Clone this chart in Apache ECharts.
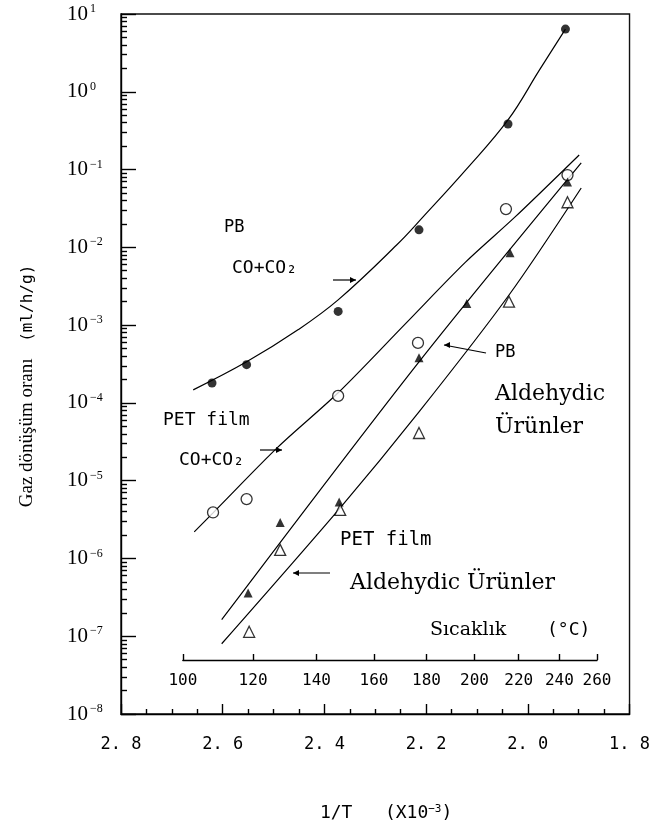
<!DOCTYPE html>
<html>
<head>
<meta charset="utf-8">
<title>Gaz dönüşüm oranı</title>
<script src="https://cdn.jsdelivr.net/npm/echarts@6/dist/echarts.min.js"></script>
</head>
<body style="margin:0;background:#fff">
<div id="main" style="width:653px;height:830px;"></div>
<script>
// values: x = 1/T (x10^-3), y = ml/h/g
var pbCoX = [2.621, 2.553, 2.373, 2.214, 2.039, 1.926];
var pbCoY = [1.8e-4, 3.1e-4, 1.5e-3, 0.0168, 0.385, 6.4];
var pbCoFitX = [2.658, 2.553, 2.452, 2.373, 2.258, 2.206, 2.122, 2.039, 1.977, 1.926];
var pbCoFitY = [1.47e-4, 3.37e-4, 8.7e-4, 2.11e-3, 0.0107, 0.0246, 0.0989, 0.434, 1.91, 6.4];

var petCoX = [2.619, 2.553, 2.373, 2.216, 2.043, 1.922];
var petCoY = [3.9e-6, 5.8e-6, 1.23e-4, 5.9e-4, 0.031, 0.085];
var petCoFitX = [2.656, 2.619, 2.491, 2.373, 2.239, 2.122, 2.025, 1.899];
var petCoFitY = [2.2e-6, 3.86e-6, 2.72e-5, 1.35e-4, 1.07e-3, 6.5e-3, 0.0246, 0.154];

var pbAlX = [2.550, 2.487, 2.371, 2.214, 2.120, 2.035, 1.922];
var pbAlY = [3.6e-7, 2.9e-6, 5.3e-6, 3.8e-4, 1.9e-3, 8.5e-3, 0.069];
var pbAlFitX = [2.602, 2.214, 1.895];
var pbAlFitY = [1.63e-7, 3.37e-4, 0.122];

var petAlX = [2.548, 2.487, 2.369, 2.214, 2.037, 1.922];
var petAlY = [1.14e-7, 1.29e-6, 4.2e-6, 4.1e-5, 2.0e-3, 0.038];
var petAlFitX = [2.602, 2.369, 2.214, 2.037, 1.895];
var petAlFitY = [8.0e-8, 4.47e-6, 7.66e-5, 2.44e-3, 0.058];

var tempTicks = [100, 120, 140, 160, 180, 200, 220, 240, 260];
var yMinorLogs = [];
for (var e = -8; e < 1; e++) {
    for (var k = 2; k <= 9; k++) yMinorLogs.push(e + Math.log10(k));
}

function pairs(xs, ys) {
    return xs.map(function (x, i) { return [x, ys[i]]; });
}
function invT(c) { return 1000 / (c + 273.15); }

var W = 653, H = 830;
var gLeft = 121, gRight = 17, gTop = 14, gBottom = 116;
var gW = W - gLeft - gRight;
// temperature scale sits inside the plot, aligned with 1/T
var tLeft = gLeft + (2.8 - invT(100)) * gW;
var tRight = W - (gLeft + (2.8 - invT(260)) * gW);

var mono = 'DejaVu Sans Mono';
var serif = 'Liberation Serif';
var serif2 = 'DejaVu Serif';

var myChart = echarts.init(document.getElementById('main'));

function fitLine(xs, ys, sm) {
    return {
        type: 'line', data: pairs(xs, ys), smooth: sm, symbol: 'none',
        lineStyle: { color: '#000', width: 1.2 }, z: 2, silent: true
    };
}
function dots(xs, ys, sym, filled, size) {
    return {
        type: 'scatter', data: pairs(xs, ys), symbol: sym, symbolSize: size,
        itemStyle: filled ? { color: '#000' } : { color: '#fff', borderColor: '#000', borderWidth: 1.3 },
        z: 3
    };
}
function txt(x, y, s, font) {
    return { type: 'text', x: x, y: y, style: { text: s, font: font, fill: '#000', verticalAlign: 'middle' } };
}
function arrow(x1, y1, x2, y2) {
    // head at (x2, y2)
    var dir = x2 > x1 ? -1 : 1;
    return [
        { type: 'line', shape: { x1: x1, y1: y1, x2: x2, y2: y2 }, style: { stroke: '#000', lineWidth: 1.2 } },
        { type: 'polygon', shape: { points: [[x2, y2], [x2 + dir * 6, y2 - 3], [x2 + dir * 6, y2 + 3]] }, style: { fill: '#000' } }
    ];
}

var graphics = [
    txt(224, 228, 'PB', '17px ' + mono),
    txt(232, 268, 'CO+CO₂', '18px ' + mono),
    txt(163, 420, 'PET film', '18px ' + mono),
    txt(179, 460, 'CO+CO₂', '18px ' + mono),
    txt(495, 353, 'PB', '17px ' + mono),
    txt(495, 394, 'Aldehydic', '22px ' + serif2),
    txt(495, 427, 'Ürünler', '22px ' + serif2),
    txt(340, 540, 'PET film', '19px ' + mono),
    txt(350, 583, 'Aldehydic Ürünler', '22px ' + serif2),
    txt(430, 630, 'Sıcaklık', '19px ' + serif2),
    txt(547, 630, '(°C)', '18px ' + mono)
].concat(arrow(333, 280, 356, 280), arrow(260, 450, 282, 450),
         arrow(486, 353, 444, 345), arrow(330, 573, 293, 573));

var black = { color: '#000', width: 1.4 };

myChart.setOption({
    backgroundColor: '#fff',
    animation: false,
    grid: [
        { left: gLeft, right: gRight, top: gTop, bottom: gBottom, show: true, borderColor: '#111', borderWidth: 1.4 },
        { left: tLeft, right: tRight, top: 640, height: 20 },
        { left: gLeft, right: gRight, top: gTop, bottom: gBottom }
    ],
    xAxis: [
        {
            type: 'value', gridIndex: 0, min: 1.8, max: 2.8, interval: 0.2, inverse: true,
            name: '  1/T   (X10{s|−3})', nameLocation: 'middle', nameGap: 90,
            nameTextStyle: { fontFamily: mono, fontSize: 18, color: '#000',
                rich: { s: { fontFamily: mono, fontSize: 11, verticalAlign: 'top', padding: [0, 0, 8, 0] } } },
            axisLine: { show: true, onZero: false, lineStyle: { color: '#000', width: 1.4 } },
            axisTick: { show: true, inside: true, length: 10, lineStyle: black },
            minorTick: { show: true, splitNumber: 4, length: 5, lineStyle: black },
            splitLine: { show: false },
            axisLabel: {
                margin: 22, color: '#000', fontFamily: mono, fontSize: 17,
                formatter: function (v) { return v.toFixed(1).replace('.', '. '); }
            }
        },
        {
            type: 'value', gridIndex: 1, min: invT(260), max: invT(100), inverse: true,
            axisLine: { show: true, onZero: false, lineStyle: black },
            axisTick: { show: true, inside: true, length: 6, lineStyle: black, customValues: tempTicks.map(invT) },
            splitLine: { show: false },
            axisLabel: {
                margin: 13, color: '#000', fontFamily: mono, fontSize: 16,
                customValues: tempTicks.map(invT),
                formatter: function (v) { return String(Math.round(1000 / v - 273.15)); }
            }
        },
        { type: 'value', gridIndex: 2, min: 1.8, max: 2.8, show: false }
    ],
    yAxis: [
        {
            type: 'log', logBase: 10, gridIndex: 0, min: 1e-8, max: 10,
            name: '{a|Gaz dönüşüm oranı}     {b|(ml/h/g)}', nameLocation: 'middle', nameGap: 84,
            nameTextStyle: {
                color: '#000',
                rich: {
                    a: { fontFamily: serif, fontSize: 19, color: '#000' },
                    b: { fontFamily: mono, fontSize: 16, color: '#000', padding: [0, 44, 0, 0] }
                }
            },
            axisLine: { show: true, onZero: false, lineStyle: { color: '#000', width: 1.4 } },
            axisTick: { show: true, inside: true, length: 15, lineStyle: black },
            splitLine: { show: false },
            axisLabel: {
                margin: 54, align: 'left', color: '#000',
                formatter: function (v) {
                    var p = Math.round(Math.log10(v));
                    return '{b|10}{s|' + (p < 0 ? '−' + (-p) : p) + '}';
                },
                rich: {
                    b: { fontFamily: serif, fontSize: 21, color: '#000' },
                    s: { fontFamily: serif, fontSize: 12, color: '#000', verticalAlign: 'top', padding: [0, 0, 10, 2] }
                }
            }
        },
        { type: 'value', gridIndex: 1, show: false, min: 0, max: 1 },
        {
            // minor log ticks 2..9 of each decade, drawn in exponent space on an overlay grid
            type: 'value', gridIndex: 2, min: -8, max: 1, position: 'left',
            axisLine: { show: false, onZero: false },
            axisLabel: { show: false },
            splitLine: { show: false },
            axisTick: { show: true, inside: true, length: 6, lineStyle: black, customValues: yMinorLogs }
        }
    ],
    graphic: graphics,
    series: [
        fitLine(pbCoFitX, pbCoFitY, 0.4),
        fitLine(petCoFitX, petCoFitY, 0.3),
        fitLine(pbAlFitX, pbAlFitY, 0.3),
        fitLine(petAlFitX, petAlFitY, 0.3),
        dots(pbCoX, pbCoY, 'circle', true, 9),
        dots(petCoX, petCoY, 'circle', false, 11),
        dots(pbAlX, pbAlY, 'triangle', true, 9),
        dots(petAlX, petAlY, 'triangle', false, 11),
        { type: 'line', xAxisIndex: 2, yAxisIndex: 2, data: [], silent: true }
    ]
});
</script>
</body>
</html>
